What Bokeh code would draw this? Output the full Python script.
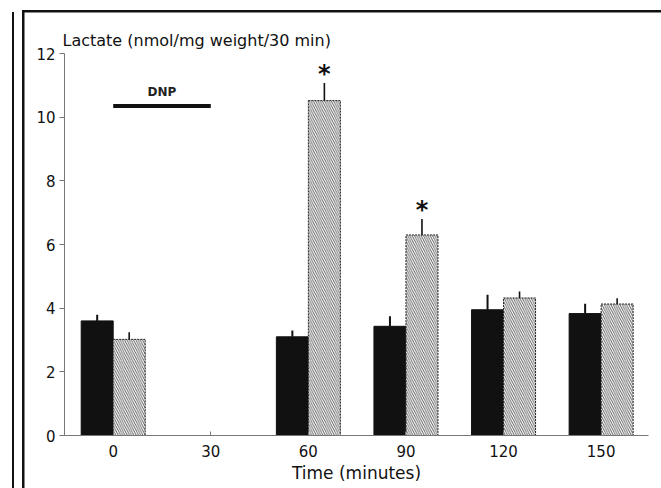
from bokeh.plotting import figure
from bokeh.models import ColumnDataSource
from bokeh.core.properties import value
from bokeh.embed import file_html
from bokeh.resources import INLINE

# ---- data ----
time_min = [0, 60, 90, 120, 150]
control = [3.60, 3.10, 3.43, 3.95, 3.83]
control_err = [0.19, 0.20, 0.32, 0.47, 0.31]
dnp = [3.02, 10.52, 6.30, 4.32, 4.13]
dnp_err = [0.22, 0.55, 0.50, 0.20, 0.18]
significant = [False, True, True, False, False]
x_ticks = [0, 30, 60, 90, 120, 150]
y_ticks = [0, 2, 4, 6, 8, 10, 12]
dnp_period = [0, 30]
dnp_level = 10.35

# ---- style ----
FONT = "DejaVu Sans"
BAR_W = 9.84
INK = "#111111"

p = figure(width=661, height=488, x_range=(-14.97, 164.56), y_range=(0, 12),
           output_backend="svg", toolbar_location=None,
           min_border_left=64, min_border_right=13, min_border_top=53,
           min_border_bottom=53)

ctrl_x = [t - BAR_W / 2 for t in time_min]
dnp_x = [t + BAR_W / 2 for t in time_min]

src = ColumnDataSource(dict(
    ctrl_x=ctrl_x, dnp_x=dnp_x, control=control, dnp=dnp,
    ctrl_hi=[v + e for v, e in zip(control, control_err)],
    dnp_hi=[v + e for v, e in zip(dnp, dnp_err)],
))

p.vbar(x="ctrl_x", top="control", width=BAR_W, source=src,
       fill_color=INK, line_color=INK, line_width=1)
p.vbar(x="dnp_x", top="dnp", width=BAR_W, source=src,
       fill_color="white", line_color="#222222", line_width=1, line_dash="2 1",
       hatch_pattern="\\", hatch_color="#333333", hatch_scale=4.5, hatch_weight=0.8)

p.segment(x0="ctrl_x", y0="control", x1="ctrl_x", y1="ctrl_hi", source=src,
          line_color=INK, line_width=2)
p.segment(x0="dnp_x", y0="dnp", x1="dnp_x", y1="dnp_hi", source=src,
          line_color=INK, line_width=1.6)

# significance stars
STAR_GAP = 0.28
star_x = [x for x, s in zip(dnp_x, significant) if s]
star_y = [v + e + STAR_GAP for v, e, s in zip(dnp, dnp_err, significant) if s]
p.text(x=star_x, y=star_y, text=["*"] * len(star_x),
       text_font=value(FONT), text_font_style="bold", text_font_size="24px",
       text_align="center", text_baseline="alphabetic", text_color=INK)

# DNP exposure bar
p.segment(x0=[dnp_period[0]], y0=[dnp_level], x1=[dnp_period[1]], y1=[dnp_level],
          line_color=INK, line_width=4)
p.text(x=[sum(dnp_period) / 2], y=[dnp_level + 0.44], text=["DNP"],
       text_font=value(FONT), text_font_style="bold", text_font_size="12px",
       text_align="center", text_baseline="alphabetic", text_color="#222222")

# axes
p.xgrid.visible = False
p.ygrid.visible = False
p.outline_line_color = None
p.background_fill_color = "white"
p.border_fill_color = None   # transparent margins: the page frame lines show through

p.xaxis.ticker = x_ticks
p.yaxis.ticker = y_ticks
for ax in (p.xaxis, p.yaxis):
    ax.axis_line_color = "#777777"
    ax.axis_line_width = 1
    ax.major_tick_line_color = "#777777"
    ax.minor_tick_line_color = None
    ax.major_label_text_font = FONT
    ax.major_label_text_font_size = "15px"
    ax.major_label_text_color = INK
p.xaxis.major_tick_in = 4
p.xaxis.major_tick_out = 0
p.xaxis.major_label_standoff = 9
p.yaxis.major_tick_in = 0
p.yaxis.major_tick_out = 5
p.yaxis.major_label_standoff = 4
p.xaxis.axis_label = "Time (minutes)"
p.xaxis.axis_label_text_font = FONT
p.xaxis.axis_label_text_font_style = "normal"
p.xaxis.axis_label_text_font_size = "17px"
p.xaxis.axis_label_text_color = INK
p.xaxis.axis_label_standoff = 3

# y-axis caption at the top left
p.title.text = "Lactate (nmol/mg weight/30 min)"
p.title.align = "left"
p.title.offset = -2
p.title.text_font = FONT
p.title.text_font_style = "normal"
p.title.text_font_size = "16px"
p.title.text_color = INK
p.title.standoff = 7

# scanned page frame lines, drawn as CSS backgrounds behind the transparent margins
p.styles = {
    "background-color": "white",
    "background-image": ", ".join(["linear-gradient(#111111, #111111)"] * 3),
    "background-size": "2px 476px, 2.5px 478px, 640px 2.5px",
    "background-position": "11.5px 12px, 22px 10px, 22px 9.5px",
    "background-repeat": "no-repeat",
}

open("out.html", "w").write(file_html(p, INLINE))
